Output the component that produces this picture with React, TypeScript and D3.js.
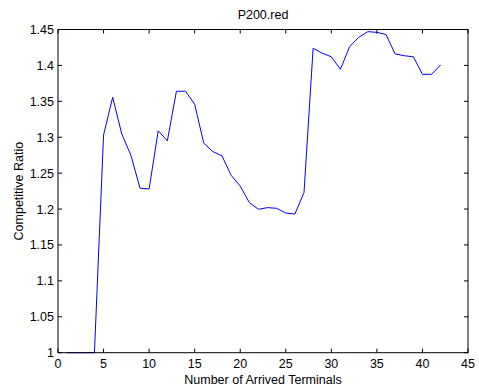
import React from "react";
import * as d3 from "d3";

const xValues = [1,2,3,4,5,6,7,8,9,10,11,12,13,14,15,16,17,18,19,20,21,22,23,24,25,26,27,28,29,30,31,32,33,34,35,36,37,38,39,40,41,42];
const ratios = [1,1,1,1,1.303,1.3556,1.3045,1.275,1.229,1.228,1.309,1.295,1.364,1.364,1.346,1.2916,1.280,1.274,1.247,1.232,1.209,1.1997,1.202,1.201,1.1945,1.193,1.223,1.4238,1.417,1.412,1.3946,1.426,1.439,1.447,1.446,1.443,1.416,1.4135,1.412,1.3876,1.3876,1.4006];
const xTicks = [0,5,10,15,20,25,30,35,40,45];
const yTicks = [1,1.05,1.1,1.15,1.2,1.25,1.3,1.35,1.4,1.45];
const title = "P200.red";
const xLabel = "Number of Arrived Terminals";
const yLabel = "Competitive Ratio";

export default function App() {
  const W = 479, H = 389;
  const left = 58, right = 468, top = 29.5, bottom = 352.7;
  const x = d3.scaleLinear().domain([0, 45]).range([left, right]);
  const y = d3.scaleLinear().domain([1, 1.45]).range([bottom, top]);
  const line = d3.line<number>().x((_, i) => x(xValues[i])).y((d) => y(d));
  const font = "'Liberation Sans', Arial, Helvetica, sans-serif";
  const fs = 12.5;
  const tl = 4;
  return (
    <svg width={W} height={H} style={{ position: "absolute", left: 0, top: 0, background: "#fff" }} fontFamily={font}>
      <rect x={0} y={0} width={W} height={H} fill="#fff" />
      <path d={line(ratios) || ""} fill="none" stroke="#0000ff" strokeWidth={1} />
      {xTicks.map((t) => (
        <g key={"x" + t}>
          <line x1={x(t)} x2={x(t)} y1={bottom} y2={bottom - tl} stroke="#000" />
          <line x1={x(t)} x2={x(t)} y1={top} y2={top + tl} stroke="#000" />
          <text x={x(t)} y={368} fontSize={fs} textAnchor="middle" fill="#000">{t}</text>
        </g>
      ))}
      {yTicks.map((t) => (
        <g key={"y" + t}>
          <line x1={left} x2={left + tl} y1={y(t)} y2={y(t)} stroke="#000" />
          <line x1={right} x2={right - tl} y1={y(t)} y2={y(t)} stroke="#000" />
          <text x={54} y={y(t) + 4.5} fontSize={fs} textAnchor="end" fill="#000">{d3.format("")(t)}</text>
        </g>
      ))}
      <rect x={left} y={top} width={right - left} height={bottom - top} fill="none" stroke="#000" strokeWidth={1} />
      <text x={(left + right) / 2} y={19} fontSize={fs} textAnchor="middle" fill="#000">{title}</text>
      <text x={(left + right) / 2} y={384} fontSize={fs} textAnchor="middle" fill="#000">{xLabel}</text>
      <text transform={`translate(23,${(top + bottom) / 2}) rotate(-90)`} fontSize={fs} textAnchor="middle" fill="#000">{yLabel}</text>
    </svg>
  );
}
